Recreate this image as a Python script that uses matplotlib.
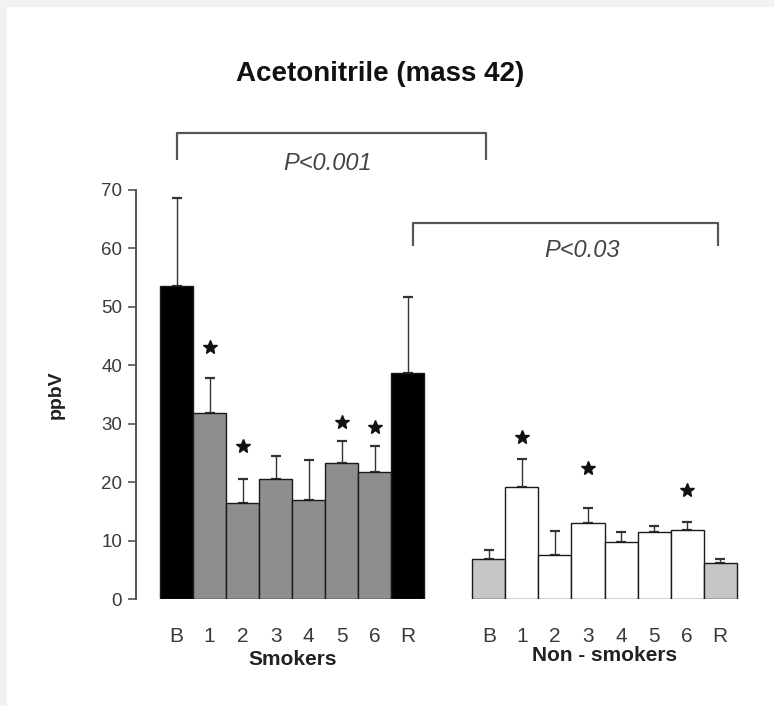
"""Acetonitrile (mass 42) - smokers vs non-smokers bar chart"""
import numpy as np, matplotlib
matplotlib.use('Agg')
import matplotlib.pyplot as plt
from matplotlib.patches import Rectangle
from matplotlib.transforms import blended_transform_factory

plt.rcParams.update({'font.family': ['Liberation Sans', 'DejaVu Sans'], 'font.size': 13})

# data (ppbV)
labels = ['B', '1', '2', '3', '4', '5', '6', 'R']
smokers_mean = [53.5, 31.9, 16.5, 20.5, 16.9, 23.2, 21.7, 38.6]
smokers_err = [15.1, 6.0, 4.0, 4.0, 6.9, 3.8, 4.5, 13.1]
nonsmokers_mean = [6.8, 19.1, 7.5, 13.0, 9.7, 11.4, 11.8, 6.1]
nonsmokers_err = [1.6, 4.9, 4.2, 2.5, 1.7, 1.1, 1.4, 0.7]
# significance stars: bar index -> star height
smokers_stars = {1: 43.1, 2: 26.2, 5: 30.3, 6: 29.4}
nonsmokers_stars = {1: 27.8, 3: 22.4, 6: 18.7}
pvals = ['P<0.001', 'P<0.03']

smk_colors = ['#000000'] + ['#8e8e8e'] * 6 + ['#000000']
non_colors = ['#c6c6c6'] + ['#ffffff'] * 6 + ['#c6c6c6']

x_s = np.arange(8)
x_n = np.arange(8) + 9.45

fig = plt.figure(figsize=(7.74, 7.06), dpi=100, facecolor='#f2f2f2')
fig.patches.append(Rectangle((7/774, 0), 1, (706-7)/706, transform=fig.transFigure,
                             facecolor='white', edgecolor='none', zorder=-10))
ax = fig.add_axes([136/774, (706-599)/706, 604/774, 409/706])
ax.set_facecolor('none')

for x, m, e, c in [(x_s, smokers_mean, smokers_err, smk_colors),
                   (x_n, nonsmokers_mean, nonsmokers_err, non_colors)]:
    ax.bar(x, m, width=1.0, color=c, edgecolor='#1a1a1a', linewidth=1.0, zorder=2)
    ax.errorbar(x, m, yerr=[np.zeros(len(e)), e], fmt='none', ecolor='#333333',
                elinewidth=1.0, capsize=3.5, capthick=1.6, zorder=1)

for xs, stars in [(x_s, smokers_stars), (x_n, nonsmokers_stars)]:
    for i, h in stars.items():
        ax.plot(xs[i], h, marker='*', ms=10, color='#111111', mec='#111111', zorder=3, clip_on=False)

# brackets
br = dict(color='#555555', lw=1.6, clip_on=False, solid_capstyle='butt')
ax.plot([x_s[0], x_s[0], x_n[0] - 0.1, x_n[0] - 0.1], [75.1, 79.8, 79.8, 75.1], **br)
ax.plot([x_s[7] + 0.15, x_s[7] + 0.15, x_n[7] - 0.07, x_n[7] - 0.07], [60.4, 64.4, 64.4, 60.4], **br)
ax.text(4.58, 74.6, pvals[0], style='italic', fontsize=17, color='#444444', ha='center', va='center')
ax.text(12.27, 59.6, pvals[1], style='italic', fontsize=17, color='#444444', ha='center', va='center')

ax.set_xlim(-1.23, 17.05)
ax.set_ylim(0, 70)
ax.set_yticks(range(0, 71, 10))
ax.set_xticks(np.concatenate([x_s, x_n]))
ax.set_xticklabels(labels + labels)
ax.tick_params(axis='x', length=0, pad=20, labelsize=15, labelcolor='#3a3a3a')
ax.tick_params(axis='y', length=6, width=1.2, color='#555555', pad=4, labelsize=13.5, labelcolor='#3a3a3a')
for s in ['top', 'right', 'bottom']:
    ax.spines[s].set_visible(False)
ax.spines['left'].set_color('#555555')
ax.spines['left'].set_linewidth(1.4)

ax.set_ylabel('ppbV', fontsize=14, fontweight='bold', color='#222222', labelpad=26)
tr = blended_transform_factory(ax.transData, ax.transAxes)
ax.text(x_s.mean(), -0.149, 'Smokers', transform=tr, ha='center', va='center',
        fontsize=15, fontweight='bold', color='#222222')
ax.text(x_n.mean(), -0.139, 'Non - smokers', transform=tr, ha='center', va='center',
        fontsize=15, fontweight='bold', color='#222222')

fig.text(380/774, 1 - 74/706, 'Acetonitrile (mass 42)', ha='center', va='center',
         fontsize=20, fontweight='bold', color='#111111')

fig.savefig('out.png', dpi=100, facecolor=fig.get_facecolor())
